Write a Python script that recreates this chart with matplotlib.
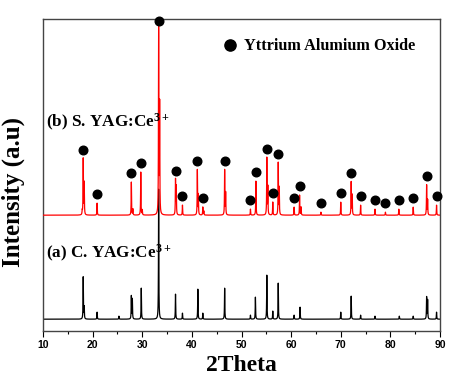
import numpy as np
import matplotlib
matplotlib.use('Agg')
import matplotlib.pyplot as plt

plt.rcParams['mathtext.fontset'] = 'custom'
plt.rcParams['mathtext.rm'] = 'Liberation Serif:bold'
plt.rcParams['mathtext.it'] = 'Liberation Serif:bold'
plt.rcParams['mathtext.bf'] = 'Liberation Serif:bold'

# donnees (2theta, hauteur du pic au-dessus de la ligne de base)
red_peaks = [18.1, 20.9, 27.8, 29.7, 33.3, 36.7, 38.1, 41.1, 42.2, 46.6, 51.8, 52.9,
             55.1, 56.3, 57.4, 60.6, 61.7, 66.0, 70.0, 72.1, 74.0, 76.9, 79.0, 81.7,
             84.6, 87.3, 89.3]
red_heights = [56, 12, 33, 43, 185, 35, 10, 45, 8, 45, 6, 34,
               57, 13, 52, 8, 20, 3, 13, 33, 10, 6, 3, 6,
               8, 30, 10]
red_shoulders = [17.9, 18.3, 28.1, 30.0, 33.5, 36.85, 41.3, 42.4, 46.8, 55.3, 57.6, 62.0, 72.3, 87.5]
red_shoulder_heights = [4, 32, 6, 5, 109, 28, 20, 4, 22, 28, 27, 8, 20, 15]

black_peaks = [18.1, 18.3, 20.9, 25.3, 27.8, 28.0, 29.8, 33.3, 36.7, 38.1, 41.2, 42.2,
               46.6, 51.8, 52.8, 55.1, 56.3, 57.4, 60.6, 61.8, 70.0, 72.1, 74.0, 76.9,
               81.8, 84.6, 87.3, 87.5, 89.3]
black_heights = [42, 12, 7, 3, 23, 20, 31, 130, 25, 6, 30, 6,
                 31, 4, 22, 44, 8, 36, 4, 12, 7, 23, 4, 3,
                 3, 3, 22, 19, 7]

red_base = 116
black_base = 12


def profile(x, centers, heights, w=0.04):
    y = np.zeros_like(x)
    for c, h in zip(centers, heights):
        y += h * w**2 / ((x - c)**2 + w**2)
    return y


x = np.arange(10, 90.001, 0.01)
y_red = red_base + profile(x, red_peaks + red_shoulders, red_heights + red_shoulder_heights)
y_black = black_base + profile(x, black_peaks, black_heights)

fig = plt.figure(figsize=(4.64, 3.91), dpi=100)
ax = fig.add_axes([0.0927, 0.153, 0.8556, 0.798])

ax.plot(x, y_black, color='black', lw=0.9, zorder=2)
ax.plot(x, y_red, color='red', lw=0.9, zorder=3)

# points au-dessus des pics
dots_y = [red_base + h + 9 for h in red_heights]
ax.plot(red_peaks, dots_y, 'o', color='black', ms=6.2, ls='none', zorder=4,
        clip_on=False, label='Yttrium Alumium Oxide')

ax.set_xlim(10, 90)
ax.set_ylim(0, 312)
ax.set_yticks([])
ax.set_xticks(range(10, 91, 10))
ax.set_xticks(range(15, 90, 10), minor=True)
ax.tick_params(axis='x', which='major', direction='out', length=4, width=0.8, pad=2)
ax.tick_params(axis='x', which='minor', direction='out', length=2.5, width=0.8)
for lab in ax.get_xticklabels():
    lab.set_fontfamily('Liberation Sans')
    lab.set_fontsize(7.5)
    lab.set_fontweight('bold')
for s in ax.spines.values():
    s.set_color('#444444')
    s.set_linewidth(1.0)

ax.set_xlabel('2Theta', fontfamily='Liberation Serif', fontweight='bold', fontsize=17, labelpad=4)
ax.set_ylabel('Intensity (a.u)', fontfamily='Liberation Serif', fontweight='bold', fontsize=18)
ax.yaxis.set_label_coords(-0.045, 0.445)

ax.text(0.008, 0.67, r'(b) S. YAG:Ce$^{3+}$', transform=ax.transAxes,
        fontfamily='Liberation Serif', fontweight='bold', fontsize=12.3, va='center')
ax.text(0.008, 0.25, r'(a) C. YAG:Ce$^{3+}$', transform=ax.transAxes,
        fontfamily='Liberation Serif', fontweight='bold', fontsize=12.3, va='center')

ax.legend(loc='upper right', bbox_to_anchor=(0.975, 0.985), frameon=False,
          handletextpad=0.3, handlelength=1.2, markerscale=1.3,
          prop={'family': 'Liberation Serif', 'weight': 'bold', 'size': 11.7})

plt.savefig('out.png', dpi=100)
